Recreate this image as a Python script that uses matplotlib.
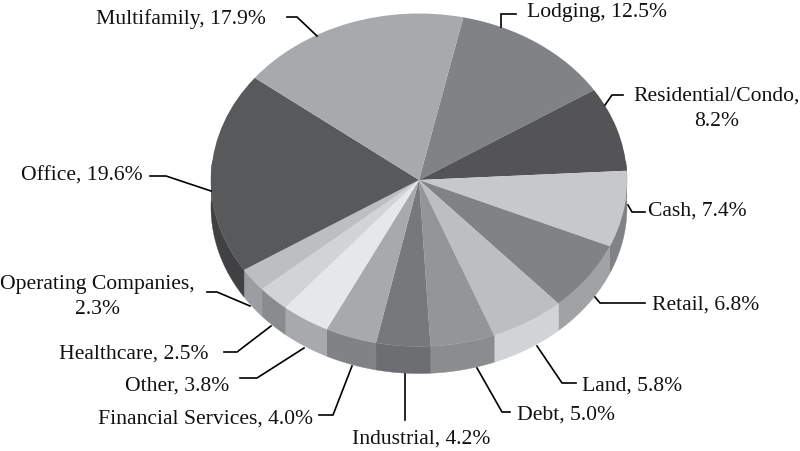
import numpy as np
import matplotlib
matplotlib.use("Agg")
import matplotlib.pyplot as plt

categories = ["Lodging", "Residential/Condo", "Cash", "Retail", "Land", "Debt", "Industrial",
              "Financial Services", "Other", "Healthcare", "Operating Companies", "Office", "Multifamily"]
values = [12.5, 8.2, 7.4, 6.8, 5.8, 5.0, 4.2, 4.0, 3.8, 2.5, 2.3, 19.6, 17.9]
top_colors = ["#808285", "#545456", "#c7c8ca", "#808285", "#bcbec0", "#939598", "#77787b",
              "#a7a9ac", "#e6e7e8", "#d1d3d4", "#bcbec0", "#58595b", "#a7a9ac"]
side_colors = ["#6d6e71", "#414042", "#808285", "#a0a2a4", "#d1d3d4", "#8a8c8e", "#6d6e71",
               "#808285", "#a7a9ac", "#8a8b8e", "#9b9da0", "#414042", "#808285"]
label_texts = ["Lodging, 12.5%", "Residential/Condo,\n8.2%", "Cash, 7.4%", "Retail, 6.8%", "Land, 5.8%",
               "Debt, 5.0%", "Industrial, 4.2%", "Financial Services, 4.0%", "Other, 3.8%",
               "Healthcare, 2.5%", "Operating Companies,\n2.3%", "Office, 19.6%", "Multifamily, 17.9%"]

W, H = 800, 451
cx, cy, rx, ry, depth = 419, 180, 208, 166.5, 27
start_deg = 12.3

fig = plt.figure(figsize=(W / 100, H / 100), dpi=100)
ax = fig.add_axes([0, 0, 1, 1])

# side walls drawn first, in unit-circle space
d = depth / ry
edges = start_deg + np.cumsum([0] + values) / sum(values) * 360
for a0, a1, c in zip(edges[:-1], edges[1:], side_colors):
    t = np.radians(np.linspace(a0, a1, 80))
    x, y = np.sin(t), np.cos(t)
    keep = (y < 0.12)
    if keep.sum() < 2:
        continue
    x, y = x[keep], y[keep]
    ax.fill(np.r_[x, x[::-1]], np.r_[y, y[::-1] - d], color=c, lw=0.3, zorder=1)

ax.pie(values, colors=top_colors, startangle=90 - start_deg, counterclock=False, radius=1,
       wedgeprops=dict(linewidth=0.3, edgecolor="none"))
for w in ax.patches:
    w.set_zorder(2)
ax.set_xlim(-cx / rx, (W - cx) / rx)
ax.set_ylim(-(H - cy) / ry, cy / ry)
ax.set_aspect("auto")
ax.axis("off")

ov = fig.add_axes([0, 0, 1, 1], facecolor="none")
ov.set_xlim(0, W)
ov.set_ylim(H, 0)
ov.axis("off")

leaders = [
    [(516, 14), (501, 14), (501, 27)],
    [(623, 95), (612, 95), (605, 105)],
    [(628, 205), (632, 212), (645, 212)],
    [(595, 297), (600, 303), (645, 303)],
    [(537, 346), (562, 383), (576, 383)],
    [(477, 368), (502, 412), (510, 412)],
    [(405, 374), (405, 420)],
    [(352, 366), (333, 415), (319, 415)],
    [(304, 348), (257, 378), (240, 378)],
    [(271, 326), (237, 352), (224, 352)],
    [(250, 306), (217, 292), (207, 292)],
    [(211, 191), (166, 176), (150, 176)],
    [(317, 36), (297, 17), (287, 17)],
]
label_pos = [
    (527, 12, "left"), (717, 109, "center"), (648, 211, "left"), (652, 305, "left"),
    (582, 386, "left"), (517, 415, "left"), (352, 439, "left"), (98, 419, "left"),
    (125, 386, "left"), (59, 354, "left"), (97, 297, "center"), (21, 176, "left"), (96, 19, "left"),
]
for pts, (tx, ty, ha), s in zip(leaders, label_pos, label_texts):
    ov.plot(*zip(*pts), color="black", lw=1.2, solid_joinstyle="miter", zorder=3)
    ov.text(tx, ty, s, family="Liberation Serif", fontsize=15.6, ha=ha, va="center",
            color="#111111", linespacing=1.48, zorder=4)

fig.savefig("out.png", dpi=100)
